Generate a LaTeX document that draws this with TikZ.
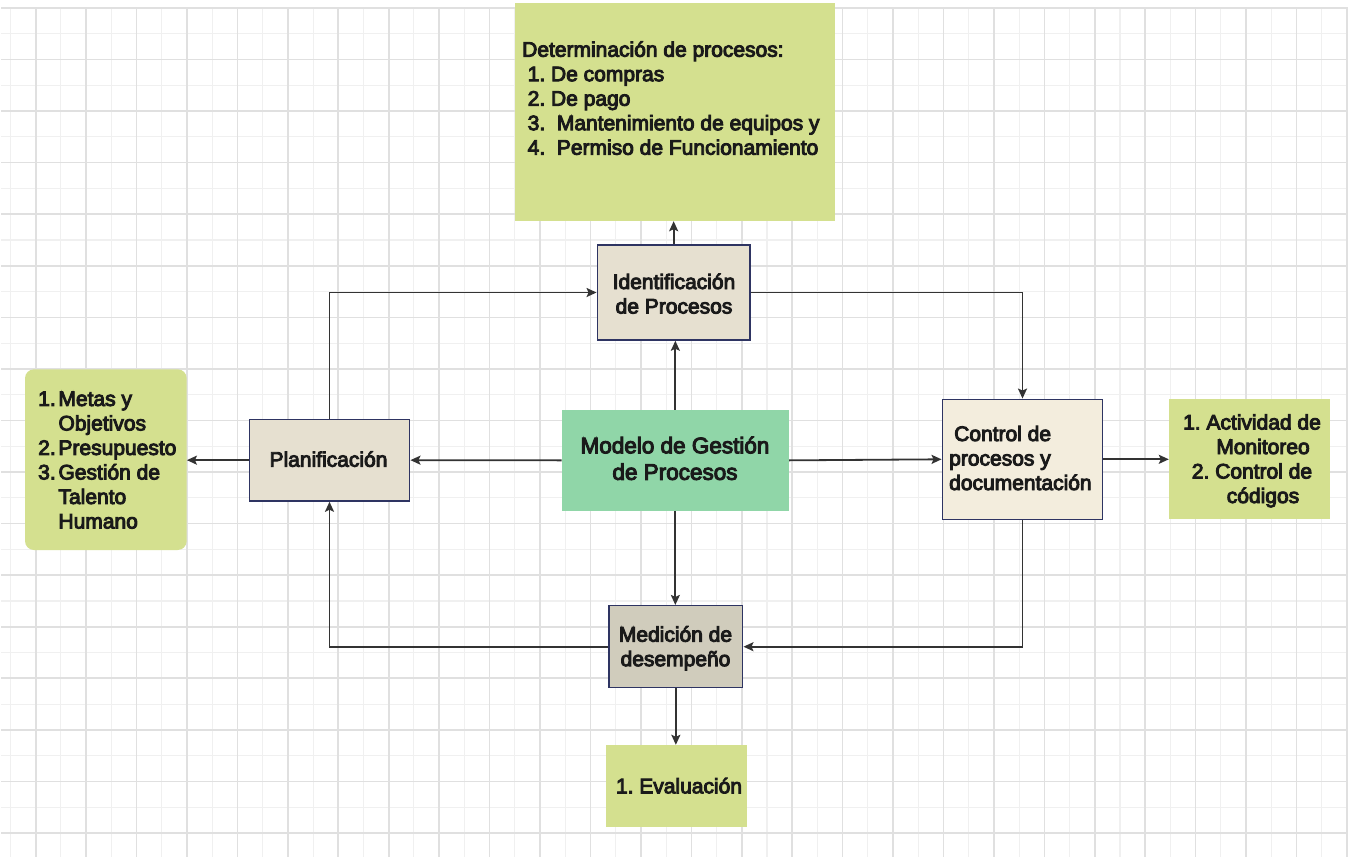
\documentclass[tikz,border=0pt]{standalone}
\usepackage{fontspec}
\newfontfamily\boxfont{Liberation Sans}[FakeBold=4.5]
\usetikzlibrary{arrows.meta}
\frenchspacing
\definecolor{gridmaj}{HTML}{E0E0E0}
\definecolor{gridmin}{HTML}{F0F0F0}
\definecolor{notegreen}{HTML}{D4E08F}
\definecolor{mint}{HTML}{90D6A8}
\definecolor{beige}{HTML}{E6E0D0}
\definecolor{cream}{HTML}{F3EDDD}
\definecolor{taupe}{HTML}{D0CCBC}
\definecolor{navy}{HTML}{2E3462}
\definecolor{wire}{HTML}{333333}
\definecolor{ink}{HTML}{1A1A1A}

\begin{document}
\begin{tikzpicture}[x=1pt,y=-1pt,
  frame/.style={draw=navy, line width=1.5pt, inner sep=0pt},
  plain/.style={draw=none, inner sep=0pt},
  lbl/.style={inner sep=0pt, text=ink, font=\boxfont\fontsize{21}{24.5}\selectfont},
  biglbl/.style={inner sep=0pt, text=ink, font=\boxfont\fontsize{22.5}{26.5}\selectfont},
  link/.style={draw=wire, line width=1.8pt, -{Stealth[length=10pt,width=9pt,inset=2pt]}},
]
\useasboundingbox (0,0) rectangle (1348,859);
\fill[white] (0,0) rectangle (1348,859);

% squared paper background
\foreach \j in {0,...,26} {
  \draw[gridmin, line width=1.1pt] ({10.5+50.43*\j},8) -- ({10.5+50.43*\j},857);
}
\foreach \j in {0,...,15} {
  \draw[gridmin, line width=1.1pt] (1,{33.8+51.56*\j}) -- (1348,{33.8+51.56*\j});
}
\foreach \j in {0,...,26} {
  \draw[gridmaj, line width=1.6pt] ({35.7+50.43*\j},8) -- ({35.7+50.43*\j},857);
}
\foreach \j in {0,...,16} {
  \draw[gridmaj, line width=1.6pt] (1,{8+51.56*\j}) -- (1348,{8+51.56*\j});
}

% boxes
\node[plain, fill=notegreen, minimum width=320pt, minimum height=218pt] (determ) at (675,112) {};
\node[frame, fill=beige, minimum width=152.7pt, minimum height=95pt] (ident) at (673.65,292.5) {};
\node[plain, fill=mint, minimum width=227.3pt, minimum height=100.7pt] (modelo) at (675.35,460.35) {};
\node[frame, fill=beige, minimum width=160.4pt, minimum height=81.7pt] (plan) at (329.5,460.15) {};
\node[plain, fill=notegreen, rounded corners=9pt, minimum width=161.7pt, minimum height=180.7pt] (metas) at (105.85,459.65) {};
\node[frame, fill=cream, minimum width=160.4pt, minimum height=120pt] (control) at (1022.5,459.3) {};
\node[plain, fill=notegreen, minimum width=161pt, minimum height=120pt] (monit) at (1249.5,459.3) {};
\node[frame, fill=taupe, minimum width=133.7pt, minimum height=82pt] (medic) at (675.85,646.7) {};
\node[plain, fill=notegreen, minimum width=141.6pt, minimum height=82.3pt] (evalu) at (676.5,786.15) {};

% texts
\node[lbl, align=left, anchor=north west] (determtext) at (522,39.35)
  {\strut Determinación de procesos:\\
   \strut\hspace*{5.5pt}1. De compras\\
   \strut\hspace*{5.5pt}2. De pago\\
   \strut\hspace*{5.5pt}3.\ \ Mantenimiento de equipos y\\
   \strut\hspace*{5.5pt}4.\ \ Permiso de Funcionamiento};
\node[lbl, align=center] (identtext) at (674,296.35)
  {\strut Identificación\\ \strut de Procesos};
\node[biglbl, align=center] (modelotext) at (675,461.25)
  {\strut Modelo de Gestión\\ \strut de Procesos};
\node[lbl] (plantext) at (328.5,461.8) {\strut Planificación};
\node[lbl, align=left, anchor=west] (metastext) at (38,462.3)
  {\strut\makebox[20.3pt][l]{1.}Metas y\\
   \strut\hspace*{20.3pt}Objetivos\\
   \strut\makebox[20.3pt][l]{2.}Presupuesto\\
   \strut\makebox[20.3pt][l]{3.}Gestión de\\
   \strut\hspace*{20.3pt}Talento\\
   \strut\hspace*{20.3pt}Humano};
\node[lbl, align=left, anchor=west] (controltext) at (949,460.6)
  {\strut\hspace*{5pt}Control de\\ \strut procesos y\\ \strut documentación};
\node[lbl, align=center] (monittext) at (1252,461.35)
  {\strut 1. Actividad de\\
   \strut\hspace*{22pt}Monitoreo\\
   \strut 2. Control de\\
   \strut\hspace*{22pt}códigos};
\node[lbl, align=center] (medictext) at (675.5,649)
  {\strut Medición de\\ \strut desempeño};
\node[lbl] (evalutext) at (679,788.4) {\strut 1. Evaluación};

% connectors
\draw[link] (modelo.north) -- (modelo.north |- ident.south);
\draw[link] (ident.north) -- (ident.north |- determ.south);
\draw[link] (modelo.west) -- (plan.east);
\draw[link] (plan.west) -- (plan.west -| metas.east);
\draw[link] (modelo.east) -- (control.west);
\draw[link] (control.east) -- (control.east -| monit.west);
\draw[link] (modelo.south) -- (modelo.south |- medic.north);
\draw[link] (medic.south) -- (medic.south |- evalu.north);
\draw[link] (plan.north) |- (ident.west);
\draw[link] (ident.east) -| (control.north);
\draw[link] (control.south) |- (medic.east);
\draw[link] (medic.west) -| (plan.south);
\end{tikzpicture}
\end{document}
